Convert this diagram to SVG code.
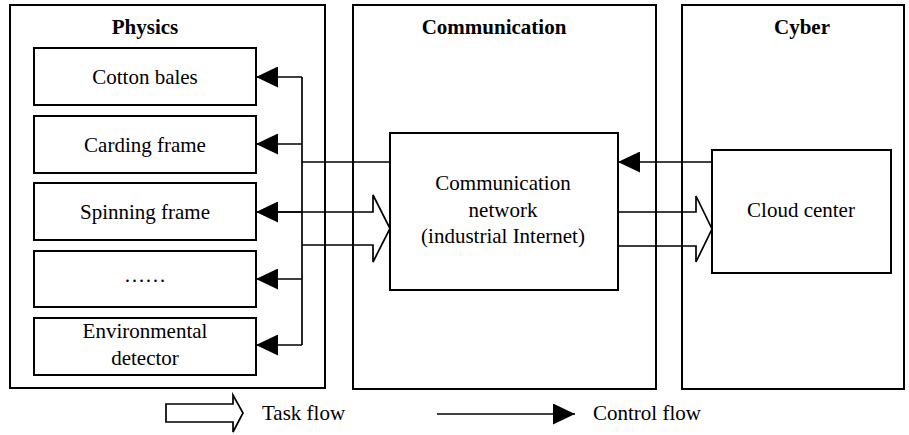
<svg xmlns="http://www.w3.org/2000/svg" width="909" height="435" viewBox="0 0 909 435">
<style>
.box{fill:#fff;stroke:#000;stroke-width:2}
.ln{fill:none;stroke:#000;stroke-width:1.7}
.t{font-family:"Liberation Serif","Times New Roman",serif;font-size:21px;fill:#000;text-anchor:middle}
.h{font-weight:bold}
.lg{text-anchor:start}
</style>
<defs>
<marker id="ah" markerWidth="22" markerHeight="21" refX="22" refY="10.5" orient="auto" markerUnits="userSpaceOnUse">
<path d="M0,0 L22,10.5 L0,21 Z" fill="#000"/>
</marker>
</defs>
<rect width="909" height="435" fill="#fff"/>
<g id="physics">
<rect class="box" x="10" y="5" width="315" height="383"/>
<text class="t h" x="145" y="34">Physics</text>
</g>
<g id="communication">
<rect class="box" x="353" y="5" width="303" height="384"/>
<text class="t h" x="494" y="34">Communication</text>
</g>
<g id="cyber">
<rect class="box" x="682" y="5" width="222" height="384"/>
<text class="t h" x="802" y="34">Cyber</text>
</g>
<g id="cotton-bales">
<rect class="box" x="34" y="48" width="222" height="57"/>
<text class="t" x="145" y="84">Cotton bales</text>
</g>
<g id="carding-frame">
<rect class="box" x="34" y="116" width="222" height="57"/>
<text class="t" x="145" y="152">Carding frame</text>
</g>
<g id="spinning-frame">
<rect class="box" x="34" y="183" width="222" height="57"/>
<text class="t" x="145" y="219">Spinning frame</text>
</g>
<g id="ellipsis">
<rect class="box" x="34" y="251" width="222" height="56"/>
<text class="t" x="145" y="282">……</text>
</g>
<g id="environmental-detector">
<rect class="box" x="34" y="318" width="222" height="57"/>
<text class="t" x="145" y="338">Environmental</text>
<text class="t" x="145" y="365">detector</text>
</g>
<g id="communication-network">
<rect class="box" x="390" y="133" width="228" height="157"/>
<text class="t" x="503" y="190">Communication</text>
<text class="t" x="503" y="217">network</text>
<text class="t" x="503" y="243">(industrial Internet)</text>
</g>
<g id="cloud-center">
<rect class="box" x="712" y="150" width="179" height="123"/>
<text class="t" x="801" y="217">Cloud center</text>
</g>
<g id="connectors">
<path class="ln" d="M302,77 V345"/>
<path class="ln" d="M302,77 H256" marker-end="url(#ah)"/>
<path class="ln" d="M302,144 H256" marker-end="url(#ah)"/>
<path class="ln" d="M302,212 H256" marker-end="url(#ah)"/>
<path class="ln" d="M302,279 H256" marker-end="url(#ah)"/>
<path class="ln" d="M302,345 H256" marker-end="url(#ah)"/>
<path class="ln" d="M390,162 H302"/>
<path class="ln" d="M278,212 H373 V195 L390,228.5 L373,262 V245 H302"/>
<path class="ln" d="M712,162 H618" marker-end="url(#ah)"/>
<path class="ln" d="M618,212 H696 V196 L712,229 L696,262 V246 H618"/>
</g>
<g id="legend">
<path class="ln" d="M166,404 H233 V395 L243,413 L233,432 V422 H166 Z"/>
<text class="t lg" x="262" y="420">Task flow</text>
<path class="ln" d="M437,414 H575" marker-end="url(#ah)"/>
<text class="t lg" x="593" y="420">Control flow</text>
</g>
</svg>
